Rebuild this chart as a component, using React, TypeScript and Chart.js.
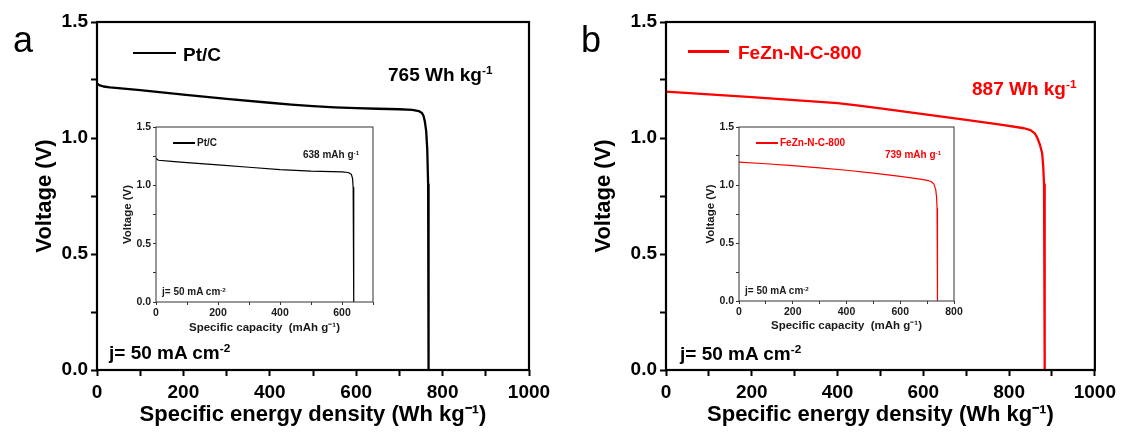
import React, { useEffect, useRef } from "react";
import { Chart, registerables } from "chart.js";

Chart.register(...registerables);

const FONT = "'Liberation Sans', Arial, Helvetica, sans-serif";

// ---- Data: main panel a (Pt/C), specific energy density (Wh/kg) vs voltage (V)
const ptcEnergy = [0, 5, 15, 30, 100, 200, 300, 400, 450, 500, 550, 600, 650, 700, 730, 745, 752, 756, 759, 762, 764.5, 766.5, 767.5, 767.5];
const ptcEnergyV = [1.235, 1.228, 1.222, 1.218, 1.206, 1.187, 1.169, 1.152, 1.144, 1.137, 1.132, 1.129, 1.126, 1.124, 1.121, 1.116, 1.108, 1.095, 1.07, 1.03, 0.95, 0.8, 0.6, 0.0];

// ---- Data: main panel b (FeZn-N-C-800)
const fezEnergy = [0, 100, 200, 300, 400, 450, 500, 600, 700, 780, 835, 850, 860, 866, 872, 877, 879.5, 881.5, 883, 883];
const fezEnergyV = [1.2, 1.188, 1.176, 1.163, 1.15, 1.14, 1.128, 1.103, 1.078, 1.058, 1.042, 1.034, 1.02, 1.0, 0.97, 0.935, 0.88, 0.8, 0.65, 0.0];

// ---- Data: inset a (Pt/C), specific capacity (mAh/g) vs voltage
const ptcCap = [0, 8, 50, 100, 200, 300, 400, 500, 600, 620, 630, 634, 636, 637.5, 638, 638];
const ptcCapV = [1.23, 1.215, 1.205, 1.195, 1.175, 1.155, 1.135, 1.122, 1.115, 1.11, 1.095, 1.06, 0.98, 0.85, 0.7, 0.0];

// ---- Data: inset b (FeZn-N-C-800)
const fezCap = [0, 100, 200, 300, 400, 500, 600, 680, 700, 715, 725, 732, 735, 737, 738.5, 738.5];
const fezCapV = [1.198, 1.183, 1.167, 1.148, 1.127, 1.102, 1.075, 1.048, 1.04, 1.03, 1.01, 0.96, 0.9, 0.8, 0.65, 0.0];

// ---- Tick labels
const mainXLabels = [0, 200, 400, 600, 800, 1000];
const insetAXLabels = [0, 200, 400, 600];
const insetBXLabels = [0, 200, 400, 600, 800];
const voltLabels = [0, 0.5, 1.0, 1.5];

const framePlugin = {
  id: "frame",
  afterDraw(chart: any, _args: any, opts: any) {
    const { ctx, chartArea } = chart;
    const { left, top, right, bottom } = chartArea;
    ctx.save();
    ctx.strokeStyle = opts.color;
    ctx.lineWidth = opts.width;
    ctx.strokeRect(left, top, right - left, bottom - top);
    ctx.restore();
  },
};

type Cfg = {
  xs: number[];
  ys: number[];
  color: string;
  lineWidth: number;
  xMax: number;
  xLabels: number[];
  xTitle: string;
  yTitle: string;
  tickSize: number;
  titleSize: number;
  textColor: string;
  frameWidth: number;
  frameColor: string;
  tickLen: number;
  tickWidth: number;
  padTop: number;
  padRight: number;
  yWidth: number;
  xHeight: number;
  yTitlePad: number;
  xTitlePad: number;
  xTickPad: number;
  yTickPad: number;
};

function makeConfig(c: Cfg): any {
  return {
    type: "line",
    data: {
      datasets: [
        {
          data: c.xs.map((x, i) => ({ x, y: c.ys[i] })),
          borderColor: c.color,
          borderWidth: c.lineWidth,
          borderJoinStyle: "round",
          borderCapStyle: "round",
          pointRadius: 0,
          tension: 0,
          fill: false,
        },
      ],
    },
    plugins: [framePlugin],
    options: {
      responsive: false,
      animation: false,
      devicePixelRatio: 1,
      layout: { padding: { top: c.padTop, right: c.padRight, left: 0, bottom: 0 } },
      plugins: {
        legend: { display: false },
        tooltip: { enabled: false },
        frame: { color: c.frameColor, width: c.frameWidth },
      },
      scales: {
        x: {
          type: "linear",
          min: 0,
          max: c.xMax,
          afterFit: (s: any) => {
            s.height = c.xHeight;
          },
          ticks: {
            stepSize: 100,
            autoSkip: false,
            maxRotation: 0,
            padding: c.xTickPad,
            color: c.textColor,
            font: { family: FONT, size: c.tickSize, weight: "bold" },
            callback: (v: number) => (c.xLabels.includes(v) ? String(v) : ""),
          },
          grid: {
            drawOnChartArea: false,
            drawTicks: true,
            tickLength: c.tickLen,
            tickWidth: c.tickWidth,
            tickColor: c.frameColor,
          },
          border: { display: false },
          title: {
            display: true,
            text: c.xTitle,
            color: c.textColor,
            font: { family: FONT, size: c.titleSize, weight: "bold" },
            padding: { top: 0, bottom: c.xTitlePad },
          },
        },
        y: {
          type: "linear",
          min: 0,
          max: 1.5,
          afterFit: (s: any) => {
            s.width = c.yWidth;
          },
          ticks: {
            stepSize: 0.25,
            autoSkip: false,
            padding: c.yTickPad,
            color: c.textColor,
            font: { family: FONT, size: c.tickSize, weight: "bold" },
            callback: (v: number) =>
              voltLabels.some((l) => Math.abs(l - v) < 1e-9) ? v.toFixed(1) : "",
          },
          grid: {
            drawOnChartArea: false,
            drawTicks: true,
            tickLength: c.tickLen,
            tickWidth: c.tickWidth,
            tickColor: c.frameColor,
          },
          border: { display: false },
          title: {
            display: true,
            text: c.yTitle,
            color: c.textColor,
            font: { family: FONT, size: c.titleSize, weight: "bold" },
            padding: { top: c.yTitlePad, bottom: 0 },
          },
        },
      },
    },
  };
}

function ChartBox(props: { left: number; top: number; width: number; height: number; cfg: Cfg }) {
  const ref = useRef<HTMLCanvasElement>(null);
  useEffect(() => {
    const chart = new Chart(ref.current as HTMLCanvasElement, makeConfig(props.cfg));
    return () => chart.destroy();
  }, []);
  return (
    <canvas
      ref={ref}
      width={props.width}
      height={props.height}
      style={{
        position: "absolute",
        left: props.left,
        top: props.top,
        width: props.width,
        height: props.height,
      }}
    />
  );
}

function Txt(props: {
  left: number;
  baseline: number;
  size: number;
  color?: string;
  bold?: boolean;
  children: React.ReactNode;
}) {
  return (
    <div
      style={{
        position: "absolute",
        left: props.left,
        top: props.baseline - 0.8465 * props.size,
        fontFamily: FONT,
        fontSize: props.size,
        lineHeight: 1,
        fontWeight: props.bold === false ? "normal" : "bold",
        color: props.color || "#000",
        whiteSpace: "nowrap",
      }}
    >
      {props.children}
    </div>
  );
}

const Sup = (p: { children: React.ReactNode }) => (
  <span style={{ fontSize: "0.62em", position: "relative", top: "-0.55em" }}>{p.children}</span>
);

function Line(props: { x1: number; x2: number; y: number; w: number; color: string }) {
  return (
    <div
      style={{
        position: "absolute",
        left: props.x1,
        top: props.y - props.w / 2,
        width: props.x2 - props.x1,
        height: props.w,
        background: props.color,
      }}
    />
  );
}

const RED = "#ff0000";
const ENERGY_TITLE = "Specific energy density (Wh kg\u207B\u00B9)";
const CAP_TITLE = "Specific capacity  (mAh g\u207B\u00B9)";

const mainBase = {
  lineWidth: 2.3,
  xMax: 1000,
  xLabels: mainXLabels,
  xTitle: ENERGY_TITLE,
  yTitle: "Voltage (V)",
  tickSize: 19,
  titleSize: 22,
  textColor: "#000",
  frameWidth: 2.2,
  frameColor: "#000",
  tickLen: 6,
  tickWidth: 2,
  padTop: 22,
  xHeight: 65,
  xTitlePad: 7,
  xTickPad: 5,
  yTickPad: 3,
};

const insetBase = {
  lineWidth: 1.2,
  xTitle: CAP_TITLE,
  yTitle: "Voltage (V)",
  tickSize: 10.5,
  titleSize: 11.5,
  textColor: "#1a1a1a",
  frameWidth: 1,
  frameColor: "#333",
  tickLen: 3,
  tickWidth: 1,
  padTop: 17,
  yWidth: 56,
  xTickPad: 2,
  yTickPad: 2,
};

export default function App() {
  const cfgA: Cfg = {
    ...mainBase,
    xs: ptcEnergy,
    ys: ptcEnergyV,
    color: "#000",
    padRight: 31,
    yWidth: 97,
    yTitlePad: 32,
  } as Cfg;
  const cfgB: Cfg = {
    ...mainBase,
    xs: fezEnergy,
    ys: fezEnergyV,
    color: RED,
    padRight: 24,
    yWidth: 106,
    yTitlePad: 31,
  } as Cfg;
  const cfgIA: Cfg = {
    ...insetBase,
    xs: ptcCap,
    ys: ptcCapV,
    color: "#000",
    xMax: 700,
    xLabels: insetAXLabels,
    padRight: 17,
    xHeight: 40,
    yTitlePad: 21,
    xTitlePad: 7,
  } as Cfg;
  const cfgIB: Cfg = {
    ...insetBase,
    xs: fezCap,
    ys: fezCapV,
    color: RED,
    xMax: 800,
    xLabels: insetBXLabels,
    padRight: 19,
    xHeight: 41,
    yTitlePad: 21,
    xTitlePad: 9,
  } as Cfg;

  return (
    <div style={{ position: "absolute", left: 0, top: 0, width: 1121, height: 435, background: "#fff", overflow: "hidden" }}>
      <ChartBox left={0} top={0} width={560} height={435} cfg={cfgA} />
      <ChartBox left={560} top={0} width={561} height={435} cfg={cfgB} />
      <ChartBox left={100} top={110} width={290} height={232} cfg={cfgIA} />
      <ChartBox left={683} top={110} width={290} height={232} cfg={cfgIB} />

      {/* panel a annotations */}
      <Txt left={13} baseline={52} size={36} bold={false}>a</Txt>
      <Line x1={133} x2={176} y={53} w={2.5} color="#000" />
      <Txt left={183} baseline={61} size={19}>Pt/C</Txt>
      <Txt left={388} baseline={81} size={19}>
        765 Wh kg<Sup>-1</Sup>
      </Txt>
      <Txt left={109} baseline={359} size={19}>
        j= 50 mA cm<Sup>-2</Sup>
      </Txt>

      {/* inset a annotations */}
      <Line x1={173} x2={195} y={143} w={1.2} color="#000" />
      <Txt left={197} baseline={146.5} size={10} color="#1a1a1a">Pt/C</Txt>
      <Txt left={303} baseline={158.5} size={10} color="#1a1a1a">
        638 mAh g<Sup>-1</Sup>
      </Txt>
      <Txt left={162} baseline={295.5} size={10} color="#1a1a1a">
        j= 50 mA cm<Sup>-2</Sup>
      </Txt>

      {/* panel b annotations */}
      <Txt left={581} baseline={52} size={36} bold={false}>b</Txt>
      <Line x1={688} x2={729} y={51.5} w={2.5} color={RED} />
      <Txt left={738} baseline={59} size={19} color={RED}>FeZn-N-C-800</Txt>
      <Txt left={972} baseline={95} size={19} color={RED}>
        887 Wh kg<Sup>-1</Sup>
      </Txt>
      <Txt left={680} baseline={360} size={19}>
        j= 50 mA cm<Sup>-2</Sup>
      </Txt>

      {/* inset b annotations */}
      <Line x1={756} x2={778} y={143} w={1.2} color={RED} />
      <Txt left={780} baseline={146.5} size={10} color={RED}>FeZn-N-C-800</Txt>
      <Txt left={885} baseline={158.5} size={10} color={RED}>
        739 mAh g<Sup>-1</Sup>
      </Txt>
      <Txt left={745} baseline={294.5} size={10} color="#1a1a1a">
        j= 50 mA cm<Sup>-2</Sup>
      </Txt>
    </div>
  );
}
